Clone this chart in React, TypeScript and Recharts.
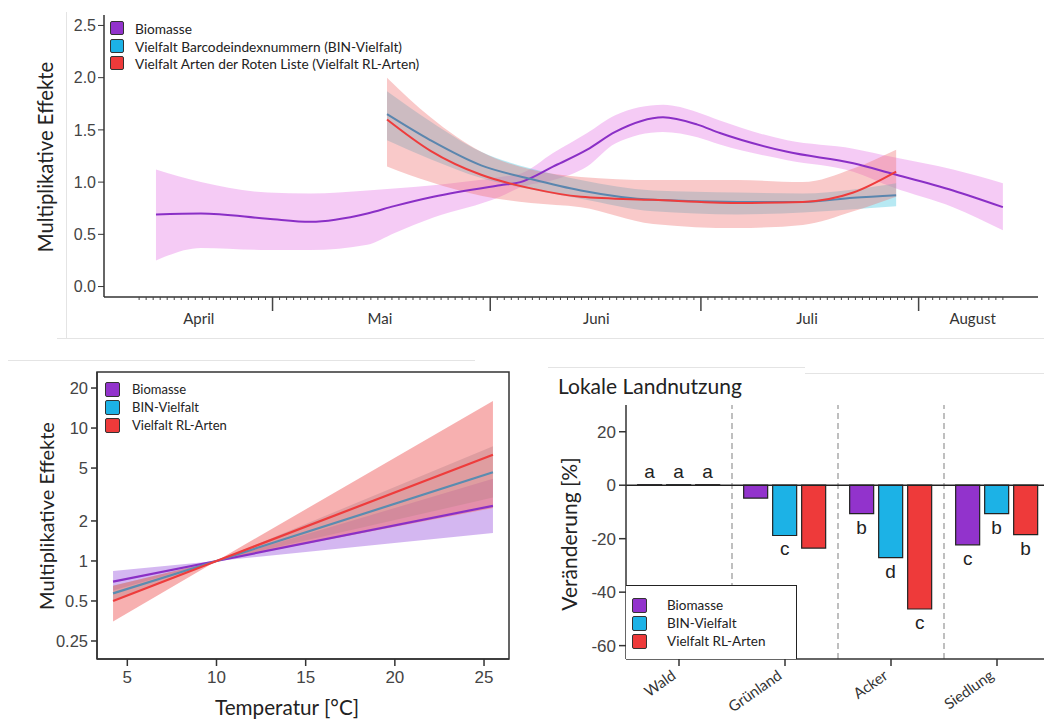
import React from "react";
import {
  ComposedChart,
  Line,
  Area,
  XAxis,
  YAxis,
  BarChart,
  Bar,
  ReferenceLine,
  ReferenceArea,
  LabelList,
} from "recharts";

// ---------- saisonaler Verlauf (oben) ----------
// x = Tage ab 1. April
const biomasseDays = [13.4, 19.8, 29.3, 35.4, 43.5, 47.3, 52.9, 62.4, 65.3, 70, 74.8, 78.8, 85.6, 90.5, 93.7, 103.3, 112.7, 118.3, 126.9, 134];
const biomasseMean = [0.69, 0.7, 0.65, 0.62, 0.7, 0.77, 0.86, 0.97, 1.0, 1.15, 1.31, 1.48, 1.62, 1.55, 1.47, 1.29, 1.18, 1.08, 0.92, 0.76];
const biomasseLow = [0.25, 0.37, 0.35, 0.35, 0.4, 0.51, 0.66, 0.86, 0.95, 1.02, 1.15, 1.37, 1.48, 1.43, 1.36, 1.21, 1.1, 0.95, 0.76, 0.54];
const biomasseHigh = [1.12, 1.0, 0.9, 0.89, 0.92, 0.94, 0.97, 1.05, 1.08, 1.28, 1.47, 1.64, 1.74, 1.67, 1.59, 1.4, 1.32, 1.24, 1.12, 0.99];

const artenDays = [46.3, 52.5, 59.7, 66.8, 73.9, 84.2, 96.2, 105.5, 112.7, 118.8];
const binMean = [1.65, 1.4, 1.16, 1.03, 0.92, 0.83, 0.81, 0.81, 0.85, 0.875];
const binLow = [1.4, 1.22, 1.04, 0.93, 0.84, 0.72, 0.69, 0.71, 0.74, 0.77];
const binHigh = [1.87, 1.58, 1.29, 1.13, 1.02, 0.92, 0.9, 0.89, 0.93, 0.99];
const rlMean = [1.6, 1.3, 1.07, 0.94, 0.86, 0.83, 0.8, 0.81, 0.9, 1.1];
const rlLow = [1.15, 1.0, 0.87, 0.8, 0.76, 0.6, 0.56, 0.59, 0.72, 0.86];
const rlHigh = [2.0, 1.62, 1.29, 1.12, 1.05, 1.02, 1.02, 1.0, 1.13, 1.31];

const monthStarts = [30, 61, 91, 122];
const monthLabels = ["April", "Mai", "Juni", "Juli", "August"];
const monthLabelDays = [19.5, 45.3, 76.1, 106.1, 129.7];
const firstMinorDay = 11;
const lastMinorDay = 134;

// ---------- Temperatur (unten links) ----------
const temps = [4.2, 10, 25.5];
const tBiomasseMean = [0.7, 1, 2.6];
const tBiomasseLow = [0.6, 1, 1.62];
const tBiomasseHigh = [0.84, 1, 4.15];
const tBinMean = [0.57, 1, 4.65];
const tBinLow = [0.5, 1, 3.0];
const tBinHigh = [0.65, 1, 7.3];
const tRlMean = [0.5, 1, 6.3];
const tRlLow = [0.35, 1, 2.5];
const tRlHigh = [0.65, 1, 16];

// ---------- Landnutzung (unten rechts) ----------
const landUse = ["Wald", "Grünland", "Acker", "Siedlung"];
const biomasseChange = [0, -4.8, -10.6, -22.3];
const binChange = [0, -18.8, -27.1, -10.6];
const rlChange = [0, -23.5, -46.3, -18.5];
const biomasseLetters = ["a", "", "b", "c"];
const binLetters = ["a", "c", "d", "b"];
const rlLetters = ["a", "", "c", "b"];

const PURPLE = "#9233cc";
const CYAN = "#1cb2e6";
const RED = "#ee3a3a";
const TICK_FONT = "'Liberation Sans', Arial, sans-serif";
const LABEL_FONT = "Lato, 'Open Sans', sans-serif";

const toSeries = (xs: number[], mean: number[], low: number[], high: number[], key: string) =>
  xs.map((x, i) => ({ [key]: x, mean: mean[i], band: [low[i], high[i]] }));

const seasonBiomasse = toSeries(biomasseDays, biomasseMean, biomasseLow, biomasseHigh, "day");
const seasonBin = toSeries(artenDays, binMean, binLow, binHigh, "day");
const seasonRl = toSeries(artenDays, rlMean, rlLow, rlHigh, "day");

const tempBiomasse = toSeries(temps, tBiomasseMean, tBiomasseLow, tBiomasseHigh, "temp");
const tempBin = toSeries(temps, tBinMean, tBinLow, tBinHigh, "temp");
const tempRl = toSeries(temps, tRlMean, tRlLow, tRlHigh, "temp");

const landData = landUse.map((name, i) => ({
  name,
  biomasse: biomasseChange[i],
  bin: binChange[i],
  rl: rlChange[i],
}));

const minorDays: number[] = [];
for (let d = firstMinorDay; d <= lastMinorDay; d++) minorDays.push(d);
const seasonTicks = [...minorDays, ...monthLabelDays];

const SeasonTick = (props: any) => {
  const { x, y, payload } = props;
  const v = payload.value;
  const li = monthLabelDays.indexOf(v);
  if (li >= 0) {
    return (
      <text x={x} y={y + 27} textAnchor="middle" fontSize={15} fontFamily={LABEL_FONT} fill="#333">
        {monthLabels[li]}
      </text>
    );
  }
  const major = monthStarts.includes(v);
  return <line x1={x} x2={x} y1={y} y2={y + (major ? 14 : 3)} stroke="#444" strokeWidth={major ? 1.5 : 1} />;
};

const LandTick = (props: any) => {
  const { x, y, payload } = props;
  const ax = x - 9;
  const ay = y;
  return (
    <text
      x={ax}
      y={ay}
      textAnchor="end"
      dominantBaseline="hanging"
      fontSize={15}
      fontFamily={LABEL_FONT}
      fill="#333"
      transform={`rotate(-35, ${ax}, ${ay})`}
    >
      {payload.value}
    </text>
  );
};

const letterLabel = (letters: string[], series: number[]) => (props: any) => {
  const { x, y, width, height, value } = props;
  const letter = letters[series.indexOf(Number(value))];
  if (!letter) return null;
  const top = Math.min(y, y + height);
  const bottom = Math.max(y, y + height);
  const cy = Number(value) === 0 ? top - 13 : bottom + 14;
  return (
    <text x={x + width / 2} y={cy + 6} textAnchor="middle" fontSize={19} fontFamily={TICK_FONT} fill="#222">
      {letter}
    </text>
  );
};

const Txt = ({ x, y, size, rotate = 0, children }: any) => (
  <div
    style={{
      position: "absolute",
      left: x,
      top: y,
      transform: `translate(-50%, -50%) rotate(${rotate}deg)`,
      fontFamily: LABEL_FONT,
      fontSize: size,
      color: "#222",
      whiteSpace: "nowrap",
    }}
  >
    {children}
  </div>
);

const LegendBox = ({ x, y, rowGap, size, textX, fontSize, items }: any) => (
  <>
    {items.map((it: any, i: number) => (
      <React.Fragment key={it.label}>
        <div
          style={{
            position: "absolute",
            left: x,
            top: y + i * rowGap - size / 2,
            width: size - 2,
            height: size - 2,
            background: it.color,
            border: "1px solid #333",
            borderRadius: 2,
          }}
        />
        <div
          style={{
            position: "absolute",
            left: textX,
            top: y + i * rowGap,
            transform: "translateY(-50%)",
            fontFamily: LABEL_FONT,
            fontSize,
            color: "#222",
            whiteSpace: "nowrap",
          }}
        >
          {it.label}
        </div>
      </React.Fragment>
    ))}
  </>
);

const fullLegend = [
  { label: "Biomasse", color: PURPLE },
  { label: "Vielfalt Barcodeindexnummern (BIN-Vielfalt)", color: CYAN },
  { label: "Vielfalt Arten der Roten Liste (Vielfalt RL-Arten)", color: RED },
];
const shortLegend = [
  { label: "Biomasse", color: PURPLE },
  { label: "BIN-Vielfalt", color: CYAN },
  { label: "Vielfalt RL-Arten", color: RED },
];

const faint = "#e4e4e4";

export default function App() {
  return (
    <div style={{ position: "absolute", left: 0, top: 0, width: 1044, height: 726, overflow: "hidden", background: "#fff" }}>
      {/* panel edges */}
      <div style={{ position: "absolute", left: 66, top: 12, width: 1, height: 327, background: faint }} />
      <div style={{ position: "absolute", left: 57, top: 338, width: 987, height: 1, background: faint }} />
      <div style={{ position: "absolute", left: 8, top: 360, width: 467, height: 1, background: faint }} />
      <div style={{ position: "absolute", left: 548, top: 367, width: 257, height: 1, background: faint }} />
      <div style={{ position: "absolute", left: 805, top: 373, width: 239, height: 1, background: faint }} />

      {/* oben: saisonaler Verlauf */}
      <div style={{ position: "absolute", left: 0, top: 0 }}>
        <ComposedChart width={1044} height={340} margin={{ top: 15, right: 6, bottom: 0, left: 0 }}>
          <XAxis
            dataKey="day"
            type="number"
            domain={[6, 139]}
            ticks={seasonTicks}
            interval={0}
            tick={<SeasonTick />}
            tickLine={false}
            tickSize={0}
            tickMargin={0}
            height={43}
            axisLine={{ stroke: "#333", strokeWidth: 1.5 }}
            allowDataOverflow
          />
          <YAxis
            type="number"
            domain={[-0.1, 2.6]}
            ticks={[0, 0.5, 1, 1.5, 2, 2.5]}
            tickFormatter={(v: number) => v.toFixed(1)}
            width={104}
            tickSize={6}
            tickMargin={2}
            tick={{ fontSize: 16, fontFamily: TICK_FONT, fill: "#444" }}
            tickLine={{ stroke: "#333" }}
            axisLine={{ stroke: "#333", strokeWidth: 1.5 }}
            allowDataOverflow
          />
          <Area data={seasonBiomasse} dataKey="band" type="monotone" stroke="none" fill="#e67ee6" fillOpacity={0.4} isAnimationActive={false} activeDot={false} />
          <Area data={seasonBin} dataKey="band" type="monotone" stroke="none" fill="#4cc8e0" fillOpacity={0.4} isAnimationActive={false} activeDot={false} />
          <Area data={seasonRl} dataKey="band" type="monotone" stroke="none" fill="#f07070" fillOpacity={0.38} isAnimationActive={false} activeDot={false} />
          <Line data={seasonBiomasse} dataKey="mean" type="monotone" stroke="#8a2fc6" strokeWidth={2} dot={false} isAnimationActive={false} />
          <Line data={seasonBin} dataKey="mean" type="monotone" stroke="#5a86ae" strokeWidth={2} dot={false} isAnimationActive={false} />
          <Line data={seasonRl} dataKey="mean" type="monotone" stroke="#ee3c3c" strokeWidth={2} dot={false} isAnimationActive={false} />
        </ComposedChart>
      </div>
      <Txt x={45} y={157} size={20.3} rotate={-90}>Multiplikative Effekte</Txt>
      <LegendBox x={110} y={28} rowGap={17.5} size={14} textX={135} fontSize={13.7} items={fullLegend} />

      {/* unten links: Temperatur */}
      <div style={{ position: "absolute", left: 0, top: 360 }}>
        <ComposedChart width={520} height={366} margin={{ top: 12, right: 11, bottom: 0, left: 0 }}>
          <XAxis
            dataKey="temp"
            type="number"
            domain={[3.3, 26.4]}
            ticks={[5, 10, 15, 20, 25]}
            height={67}
            tickSize={7}
            tickMargin={5}
            tick={{ fontSize: 17, fontFamily: TICK_FONT, fill: "#444" }}
            tickLine={{ stroke: "#333", strokeWidth: 1.5 }}
            axisLine={{ stroke: "#333", strokeWidth: 1.5 }}
            allowDataOverflow
          />
          <YAxis
            type="number"
            scale="log"
            domain={[0.183, 26.4]}
            ticks={[0.25, 0.5, 1, 2, 5, 10, 20]}
            width={97}
            tickSize={6}
            tickMargin={3}
            tick={{ fontSize: 16.5, fontFamily: TICK_FONT, fill: "#444" }}
            tickLine={{ stroke: "#333", strokeWidth: 1.5 }}
            axisLine={{ stroke: "#333", strokeWidth: 1.5 }}
            allowDataOverflow
          />
          <Area data={tempBiomasse} dataKey="band" type="linear" stroke="none" fill="#a060e0" fillOpacity={0.45} isAnimationActive={false} activeDot={false} />
          <Area data={tempBin} dataKey="band" type="linear" stroke="none" fill="#7a98a8" fillOpacity={0.4} isAnimationActive={false} activeDot={false} />
          <Area data={tempRl} dataKey="band" type="linear" stroke="none" fill="#f07070" fillOpacity={0.55} isAnimationActive={false} activeDot={false} />
          <Line data={tempBiomasse} dataKey="mean" type="linear" stroke="#8a2fc6" strokeWidth={2.2} dot={false} isAnimationActive={false} />
          <Line data={tempBin} dataKey="mean" type="linear" stroke="#5a8cb0" strokeWidth={2.2} dot={false} isAnimationActive={false} />
          <Line data={tempRl} dataKey="mean" type="linear" stroke="#ee3c3c" strokeWidth={2.2} dot={false} isAnimationActive={false} />
          <ReferenceArea x1={3.3} x2={26.4} y1={0.183} y2={26.4} fill="none" stroke="#333" strokeWidth={1.5} ifOverflow="visible" />
        </ComposedChart>
      </div>
      <Txt x={46} y={516} size={20} rotate={-90}>Multiplikative Effekte</Txt>
      <Txt x={287} y={707} size={20.7}>Temperatur [°C]</Txt>
      <LegendBox x={105} y={389} rowGap={18} size={15} textX={132} fontSize={13} items={shortLegend} />

      {/* unten rechts: Landnutzung */}
      <div style={{ position: "absolute", left: 540, top: 360 }}>
        <BarChart
          width={520}
          height={366}
          data={landData}
          margin={{ top: 45, right: 10, bottom: 0, left: 0 }}
          barCategoryGap="11%"
          barGap={5}
        >
          <XAxis
            dataKey="name"
            height={67}
            tickSize={7}
            tick={<LandTick />}
            interval={0}
            tickLine={{ stroke: "#333", strokeWidth: 1.5 }}
            axisLine={{ stroke: "#333", strokeWidth: 1.5 }}
          />
          <YAxis
            type="number"
            domain={[-65, 30]}
            ticks={[-60, -40, -20, 0, 20]}
            width={86}
            tickSize={7}
            tickMargin={3}
            tick={{ fontSize: 17, fontFamily: TICK_FONT, fill: "#444" }}
            tickLine={{ stroke: "#333", strokeWidth: 1.5 }}
            axisLine={{ stroke: "#333", strokeWidth: 1.5 }}
            allowDataOverflow
          />
          {landUse.slice(1).map((name) => (
            <ReferenceLine key={name} x={name} position="start" stroke="#aaa" strokeWidth={1.5} strokeDasharray="6 4" />
          ))}
          <ReferenceLine y={0} stroke="#222" strokeWidth={1.5} />
          <Bar dataKey="biomasse" fill={PURPLE} stroke="#222" strokeWidth={1.2} minPointSize={0.5} isAnimationActive={false}>
            <LabelList dataKey="biomasse" content={letterLabel(biomasseLetters, biomasseChange)} />
          </Bar>
          <Bar dataKey="bin" fill={CYAN} stroke="#222" strokeWidth={1.2} minPointSize={0.5} isAnimationActive={false}>
            <LabelList dataKey="bin" content={letterLabel(binLetters, binChange)} />
          </Bar>
          <Bar dataKey="rl" fill={RED} stroke="#222" strokeWidth={1.2} minPointSize={0.5} isAnimationActive={false}>
            <LabelList dataKey="rl" content={letterLabel(rlLetters, rlChange)} />
          </Bar>
        </BarChart>
      </div>
      <div style={{ position: "absolute", left: 558, top: 373, fontFamily: LABEL_FONT, fontSize: 21, color: "#222", whiteSpace: "nowrap" }}>
        Lokale Landnutzung
      </div>
      <Txt x={568} y={534} size={21} rotate={-90}>Veränderung [%]</Txt>
      <div style={{ position: "absolute", left: 626, top: 585, width: 170, height: 73, background: "#fff", border: "1.5px solid #222", borderBottom: "none", borderLeft: "none" }} />
      <LegendBox x={632} y={605} rowGap={18} size={15} textX={667} fontSize={13.5} items={shortLegend} />
    </div>
  );
}
